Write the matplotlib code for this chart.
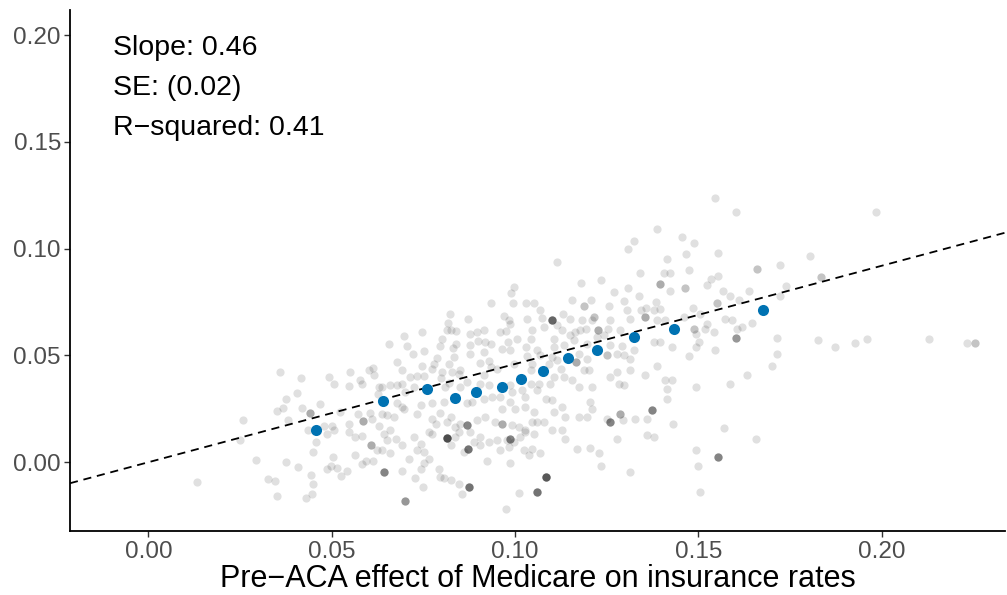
import numpy as np
import matplotlib
matplotlib.use("Agg")
import matplotlib.pyplot as plt

plt.rcParams['font.family'] = ['Liberation Sans', 'DejaVu Sans']

# ---- data (x = pre-ACA Medicare effect, y = outcome) ----
cloud_west = [
    (0.0360,0.0423),(0.0416,0.0392),(0.0492,0.0398),(0.0505,0.0364),(0.0549,0.0423),(0.0546,0.0359),
    (0.0578,0.0387),(0.0583,0.0368),(0.0601,0.0434),(0.0613,0.0443),(0.0614,0.0410),(0.0375,0.0298),
    (0.0406,0.0323),(0.0367,0.0254),(0.0351,0.0239),(0.0420,0.0254),(0.0468,0.0271),(0.0257,0.0200),
    (0.0380,0.0200),(0.0522,0.0236),(0.0572,0.0228),(0.0605,0.0231),(0.0610,0.0203),(0.0628,0.0353),
    (0.0625,0.0321),(0.0435,0.0150),(0.0480,0.0168),(0.0501,0.0170),(0.0487,0.0134),(0.0505,0.0153),
    (0.0546,0.0178),(0.0546,0.0142),(0.0564,0.0119),(0.0583,0.0121),(0.0628,0.0170),(0.0251,0.0106),
    (0.0458,0.0095),(0.0449,0.0050),(0.0624,0.0056),(0.0504,0.0025),(0.0564,0.0033),(0.0592,0.0005),
    (0.0583,-0.0009),(0.0613,0.0005),(0.0292,0.0009),(0.0374,0.0000),(0.0408,-0.0023),(0.0487,-0.0033),
    (0.0499,-0.0019),(0.0513,-0.0027),(0.0524,-0.0066),(0.0542,-0.0042),(0.0442,-0.0059),(0.0449,-0.0104),
    (0.0325,-0.0080),(0.0344,-0.0087),(0.0133,-0.0094),(0.0351,-0.0156),(0.0431,-0.0167),(0.0446,-0.0151),
]

cloud_center = [
    (0.0996,0.0820),(0.0989,0.0792),(0.0933,0.0746),(0.0994,0.0747),(0.1031,0.0746),(0.0822,0.0693),
    (0.0872,0.0672),(0.0969,0.0685),(0.0983,0.0665),(0.0985,0.0646),(0.1033,0.0672),(0.0816,0.0652),
    (0.0826,0.0618),(0.0840,0.0613),(0.0815,0.0618),(0.0746,0.0610),(0.0878,0.0602),(0.0914,0.0621),
    (0.0896,0.0610),(0.0976,0.0613),(0.0960,0.0610),(0.0696,0.0591),(0.0801,0.0579),(0.0840,0.0552),
    (0.0898,0.0568),(0.0919,0.0563),(0.0934,0.0552),(0.1005,0.0579),(0.0980,0.0563),(0.0964,0.0532),
    (0.0655,0.0555),(0.0705,0.0543),(0.0722,0.0505),(0.0751,0.0521),(0.0794,0.0544),(0.0831,0.0537),
    (0.0878,0.0551),(0.0914,0.0516),(0.0878,0.0505),(0.0987,0.0524),(0.1031,0.0540),(0.0833,0.0493),
    (0.0819,0.0462),(0.0778,0.0462),(0.0746,0.0449),(0.0787,0.0490),(0.0774,0.0435),(0.0678,0.0469),
    (0.0714,0.0399),(0.0692,0.0434),(0.0751,0.0402),(0.0733,0.0402),(0.0801,0.0423),(0.0828,0.0423),
    (0.0846,0.0412),(0.0851,0.0431),(0.0905,0.0465),(0.0928,0.0474),(0.0935,0.0446),(0.0914,0.0407),
    (0.0951,0.0438),(0.0996,0.0462),(0.1033,0.0496),(0.1042,0.0431),(0.0798,0.0392),(0.0819,0.0371),
    (0.0810,0.0352),(0.0851,0.0352),(0.0869,0.0376),(0.0905,0.0368),(0.0928,0.0360),(0.0987,0.0360),
    (0.0992,0.0329),(0.1019,0.0337),(0.1028,0.0306),(0.0637,0.0352),(0.0660,0.0360),(0.0678,0.0360),
    (0.0692,0.0368),(0.0701,0.0329),(0.0724,0.0352),(0.0678,0.0275),(0.0692,0.0259),(0.0696,0.0247),
    (0.0742,0.0267),(0.0774,0.0275),(0.0805,0.0282),(0.0869,0.0275),(0.0883,0.0282),(0.0914,0.0298),
    (0.0937,0.0306),(0.0960,0.0306),(0.0964,0.0251),(0.0987,0.0282),(0.1001,0.0251),(0.1028,0.0259),
    (0.0637,0.0228),(0.0651,0.0220),(0.0669,0.0212),(0.0733,0.0228),(0.0796,0.0231),(0.0824,0.0212),
    (0.0774,0.0204),(0.0837,0.0165),(0.0851,0.0181),(0.0896,0.0197),(0.0919,0.0212),(0.0946,0.0189),
    (0.0992,0.0173),(0.1010,0.0165),(0.1028,0.0150),(0.0815,0.0186),(0.0783,0.0181),(0.0764,0.0142),
    (0.0774,0.0134),(0.0660,0.0150),(0.0642,0.0134),(0.0674,0.0111),(0.0651,0.0103),(0.0637,0.0059),
    (0.0660,0.0041),(0.0692,0.0080),(0.0724,0.0119),(0.0742,0.0087),(0.0733,0.0056),(0.0751,0.0048),
    (0.0764,0.0017),(0.0710,0.0017),(0.0824,0.0080),(0.0837,0.0119),(0.0846,0.0142),(0.0878,0.0142),
    (0.0887,0.0095),(0.0905,0.0119),(0.0928,0.0095),(0.0951,0.0103),(0.0978,0.0103),(0.0996,0.0095),
    (0.1014,0.0119),(0.1028,0.0142),(0.0860,0.0048),(0.0905,0.0080),(0.0960,0.0056),(0.0983,0.0072),
    (0.1023,0.0056),(0.1037,0.0033),(0.0987,-0.0002),(0.0924,0.0006),(0.0751,-0.0006),(0.0792,-0.0030),
    (0.0742,-0.0033),(0.0692,-0.0042),(0.0796,-0.0069),(0.0807,-0.0076),(0.0728,-0.0076),(0.0824,-0.0084),
    (0.0846,-0.0100),(0.0748,-0.0115),(0.0855,-0.0147),(0.1010,-0.0142),(0.0974,-0.0217),
]

cloud_east = [
    (0.1387,0.1094),(0.1325,0.1034),(0.1307,0.0997),(0.1414,0.0953),(0.1114,0.0938),(0.1340,0.0886),
    (0.1407,0.0886),(0.1422,0.0886),(0.1180,0.0841),(0.1234,0.0852),(0.1307,0.0816),(0.1423,0.0800),
    (0.1269,0.0797),(0.1051,0.0747),(0.1069,0.0711),(0.1155,0.0758),(0.1207,0.0761),(0.1298,0.0753),
    (0.1337,0.0777),(0.1383,0.0750),(0.1305,0.0714),(0.1255,0.0730),(0.1358,0.0724),(0.1378,0.0711),
    (0.1396,0.0719),(0.1342,0.0714),(0.1074,0.0675),(0.1131,0.0696),(0.1151,0.0672),(0.1183,0.0665),
    (0.1210,0.0665),(0.1258,0.0665),(0.1314,0.0672),(0.1387,0.0668),(0.1410,0.0665),(0.1046,0.0618),
    (0.1078,0.0633),(0.1114,0.0641),(0.1128,0.0618),(0.1164,0.0610),(0.1178,0.0618),(0.1192,0.0626),
    (0.1252,0.0626),(0.1287,0.0618),(0.1105,0.0579),(0.1151,0.0594),(0.1160,0.0571),(0.1196,0.0555),
    (0.1224,0.0587),(0.1242,0.0594),(0.1258,0.0548),(0.1292,0.0543),(0.1378,0.0563),(0.1396,0.0563),
    (0.1428,0.0540),(0.1042,0.0579),(0.1060,0.0524),(0.1105,0.0540),(0.1133,0.0548),(0.1069,0.0501),
    (0.1046,0.0462),(0.1092,0.0462),(0.1101,0.0493),(0.1114,0.0477),(0.1174,0.0509),(0.1196,0.0485),
    (0.1278,0.0505),(0.1296,0.0501),(0.1314,0.0485),(0.1323,0.0524),(0.1187,0.0431),(0.1201,0.0431),
    (0.1124,0.0438),(0.1105,0.0399),(0.1064,0.0368),(0.1060,0.0337),(0.1096,0.0368),(0.1133,0.0399),
    (0.1155,0.0387),(0.1174,0.0352),(0.1210,0.0352),(0.1260,0.0399),(0.1278,0.0423),(0.1283,0.0368),
    (0.1296,0.0360),(0.1314,0.0431),(0.1355,0.0407),(0.1387,0.0451),(0.1410,0.0384),(0.1414,0.0345),
    (0.1428,0.0384),(0.1042,0.0368),(0.1101,0.0290),(0.1083,0.0298),(0.1128,0.0259),(0.1137,0.0212),
    (0.1105,0.0235),(0.1174,0.0212),(0.1205,0.0282),(0.1210,0.0251),(0.1196,0.0212),(0.1251,0.0204),
    (0.1294,0.0197),(0.1328,0.0204),(0.1360,0.0204),(0.1431,0.0181),(0.1414,0.0298),(0.1051,0.0235),
    (0.1046,0.0189),(0.1060,0.0189),(0.1078,0.0189),(0.1101,0.0150),(0.1128,0.0150),(0.1137,0.0111),
    (0.1051,0.0134),(0.1046,0.0064),(0.1069,0.0041),(0.1169,0.0061),(0.1205,0.0067),(0.1228,0.0045),
    (0.1233,-0.0017),(0.1278,0.0111),(0.1360,0.0126),(0.1380,0.0118),(0.1313,-0.0048),
]

cloud_far_east = [
    (0.1544,0.1237),(0.1603,0.1172),(0.1455,0.1055),(0.1489,0.1028),(0.1553,0.0980),(0.1466,0.0973),
    (0.1803,0.0964),(0.1722,0.0924),(0.1475,0.0899),(0.1553,0.0870),(0.1533,0.0856),(0.1524,0.0831),
    (0.1740,0.0824),(0.1566,0.0802),(0.1587,0.0778),(0.1639,0.0802),(0.1723,0.0778),(0.1485,0.0722),
    (0.1610,0.0758),(0.1460,0.0680),(0.1503,0.0696),(0.1524,0.0649),(0.1542,0.0610),(0.1573,0.0672),
    (0.1592,0.0667),(0.1619,0.0633),(0.1605,0.0622),(0.1646,0.0654),(0.1492,0.0602),(0.1519,0.0624),
    (0.1713,0.0583),(0.1825,0.0571),(0.1501,0.0563),(0.1492,0.0540),(0.1546,0.0524),(0.1475,0.0496),
    (0.1715,0.0505),(0.1701,0.0451),(0.1633,0.0410),(0.1587,0.0364),(0.1494,0.0352),(0.1569,0.0162),
    (0.1657,0.0111),(0.1494,0.0056),(0.1498,-0.0016),(0.1505,-0.0139),
    (0.1985,0.1172),(0.1873,0.0540),(0.1926,0.0560),(0.1961,0.0577),(0.2129,0.0577),(0.2233,0.0558),
]

# darker dots: overlapping observations (x, y, number of overlaps)
stacked = [
    (0.0440,0.0229,3),(0.0585,0.0192,3),(0.0608,0.0081,3),
    (0.0869,0.0173,5),(0.0964,0.0181,3),(0.0815,0.0114,9),(0.0987,0.0111,5),(0.0872,0.0064,6),
    (0.0873,-0.0115,6),(0.0701,-0.0181,4),(0.0642,-0.0045,5),
    (0.1396,0.0836,3),(0.1187,0.0730,2),(0.1101,0.0665,7),(0.1216,0.0680,2),(0.1355,0.0680,3),
    (0.1225,0.0618,3),(0.1167,0.0469,3),(0.1251,0.0501,2),(0.1260,0.0186,5),(0.1287,0.0228,3),
    (0.1374,0.0243,5),(0.1083,-0.0067,8),(0.1060,-0.0139,6),
    (0.1660,0.0906,2),(0.1833,0.0866,2),(0.1464,0.0816,2),(0.1551,0.0746,2),(0.1487,0.0626,2),
    (0.1603,0.0583,4),(0.1552,0.0025,5),(0.2253,0.0558,2),
]

bin_x = [0.0458, 0.0641, 0.0761, 0.0837, 0.0894, 0.0965, 0.1017,
         0.1077, 0.1143, 0.1224, 0.1323, 0.1432, 0.1677]
bin_y = [0.0150, 0.0286, 0.0342, 0.0300, 0.0328, 0.0351, 0.0389,
         0.0426, 0.0487, 0.0525, 0.0585, 0.0623, 0.0712]

slope = 0.46
intercept = 0.0
annot = ["Slope: 0.46", "SE: (0.02)", "R\u2212squared: 0.41"]

x_ticks = [0.00, 0.05, 0.10, 0.15, 0.20]
y_ticks = [0.00, 0.05, 0.10, 0.15, 0.20]
x_label = "Pre\u2212ACA effect of Medicare on insurance rates"

# ---- plot ----
fig = plt.figure(figsize=(10.07, 5.95), dpi=100)
ax = fig.add_axes([0.0695, 0.1076, 0.9285, 0.8754])

pts = cloud_west + cloud_center + cloud_east + cloud_far_east
gx = np.array([p[0] for p in pts])
gy = np.array([p[1] for p in pts])
sx = np.array([p[0] for p in stacked])
sy = np.array([p[1] for p in stacked])
sn = np.array([p[2] for p in stacked])
gx = np.concatenate([gx, np.repeat(sx, sn)])
gy = np.concatenate([gy, np.repeat(sy, sn)])

ax.scatter(gx, gy, s=35, color='black', alpha=0.12, linewidths=0, zorder=1)

xlim = (-0.0214, 0.2336)
xx = np.array(xlim)
ax.plot(xx, intercept + slope * xx, color='black', linestyle=(0, (4.5, 3.2)),
        linewidth=1.3, zorder=2)

ax.scatter(bin_x, bin_y, s=64, color='#0072B2', linewidths=0, zorder=3)

ax.set_xlim(*xlim)
ax.set_ylim(-0.0322, 0.2117)

ax.set_xticks(x_ticks)
ax.set_xticklabels([f"{v:.2f}" for v in x_ticks])
ax.set_yticks(y_ticks)
ax.set_yticklabels([f"{v:.2f}" for v in y_ticks])

for side in ['top', 'right']:
    ax.spines[side].set_visible(False)
for side in ['left', 'bottom']:
    ax.spines[side].set_linewidth(1.3)
    ax.spines[side].set_color('black')

ax.tick_params(axis='both', which='major', length=4.5, width=1.0, color='#333333',
               labelsize=17.5, labelcolor='#4D4D4D')
ax.tick_params(axis='x', pad=2.5)
ax.tick_params(axis='y', pad=2)

ax.set_xlabel(x_label, fontsize=22, color='black', labelpad=1)

for i, t in enumerate(annot):
    ax.text(-0.0097, 0.1906 - i * 0.0187, t, fontsize=20.5, color='black',
            ha='left', va='baseline', zorder=4)

fig.savefig("out.png", dpi=100)
